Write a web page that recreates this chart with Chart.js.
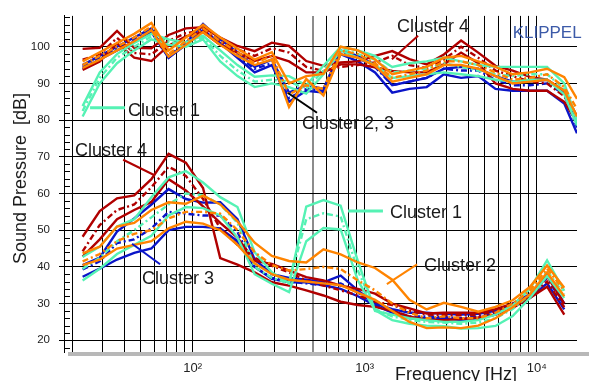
<!DOCTYPE html>
<html>
<head>
<meta charset="utf-8">
<script src="https://cdn.jsdelivr.net/npm/chart.js@4.4.1/dist/chart.umd.min.js"></script>
<style>
html, body { margin: 0; padding: 0; background: #fff; }
#wrap { width: 589px; height: 381px; }
</style>
</head>
<body>
<div id="wrap"><canvas id="chart1" width="589" height="381"></canvas></div>
<script>
"use strict";

// third-octave frequencies (Hz); the upper curves have one extra point at the end
const freqs = [22.9, 28.8, 36.3, 45.7, 57.5, 72.4, 91.2, 114.8, 144.5, 182.0,
    229.1, 288.4, 363.1, 457.1, 575.4, 724.4, 912.0, 1148, 1445, 1820,
    2291, 2884, 3631, 4571, 5754, 7244, 9120, 11482, 14454, 17140];

// upper group (on-axis level), per cluster: top / mean / bottom
const upC4Top  = [99.4, 99.7, 104.3, 99.7, 99.6, 103.2, 105.0, 105.3, 102.5, 100.2, 98.8, 101.1, 100.2, 96.1, 94.8, 95.7, 96.0, 97.5, 98.8, 96.6, 95.2, 97.9, 101.7, 98.4, 94.8, 93.5, 91.8, 91.0, 88.0, 81.0];
const upC4Mean = [96.5, 97.8, 102.4, 98.3, 97.9, 101.6, 103.7, 104.5, 101.5, 99.3, 97.5, 99.6, 98.4, 94.5, 93.4, 94.5, 95.0, 95.7, 97.5, 95.0, 94.2, 96.5, 100.0, 97.0, 93.5, 92.0, 90.5, 90.0, 86.5, 80.5];
const upC4Bot  = [93.7, 96.0, 101.0, 97.0, 96.1, 100.3, 102.8, 104.0, 100.5, 98.4, 96.1, 97.5, 96.0, 93.0, 93.0, 95.2, 95.2, 94.4, 93.4, 93.0, 93.0, 95.2, 98.4, 95.5, 90.0, 88.5, 88.0, 88.0, 85.0, 79.5];

const upC1Top  = [83.8, 93.0, 98.0, 101.0, 103.5, 102.0, 101.2, 103.0, 99.0, 95.0, 91.8, 92.2, 92.0, 89.5, 94.8, 100.0, 99.0, 97.5, 94.5, 95.5, 96.0, 97.0, 96.0, 95.0, 94.5, 94.5, 94.5, 94.5, 90.0, 80.0];
const upC1Mean = [82.5, 91.5, 97.0, 100.0, 102.8, 101.3, 100.5, 102.5, 97.5, 93.5, 90.5, 91.0, 90.5, 88.5, 93.5, 99.5, 98.0, 96.5, 93.0, 93.5, 94.0, 95.5, 94.5, 93.5, 92.5, 92.0, 92.5, 92.5, 88.5, 79.5];
const upC1Bot  = [81.0, 90.0, 95.5, 99.0, 102.0, 100.5, 100.0, 102.0, 96.0, 92.0, 89.0, 90.0, 89.0, 87.2, 92.5, 99.0, 97.0, 95.0, 91.5, 92.0, 92.5, 93.0, 92.5, 92.0, 91.0, 90.5, 91.0, 91.0, 87.0, 78.5];

const upC3Top  = [95.0, 97.5, 100.0, 102.5, 105.0, 97.0, 101.0, 106.2, 102.0, 98.5, 94.5, 96.5, 87.5, 89.5, 88.5, 99.0, 97.5, 95.0, 89.5, 90.5, 91.5, 94.0, 94.5, 94.0, 92.0, 90.5, 90.5, 91.0, 87.5, 79.0];
const upC3Mean = [94.5, 97.0, 99.5, 102.0, 104.5, 97.5, 101.0, 105.2, 101.5, 97.5, 94.0, 95.5, 86.0, 88.5, 88.0, 98.5, 97.0, 94.5, 89.5, 90.5, 91.5, 94.0, 93.5, 93.5, 91.0, 89.5, 89.5, 90.0, 87.0, 78.0];
const upC3Bot  = [94.0, 96.5, 99.0, 101.5, 104.0, 97.0, 100.5, 104.5, 101.0, 97.0, 93.0, 95.0, 85.0, 88.0, 87.5, 98.0, 96.0, 93.0, 87.5, 88.5, 89.0, 92.5, 91.5, 92.0, 88.5, 88.0, 88.0, 88.0, 84.5, 76.4];

const upC2Top  = [96.0, 98.5, 101.0, 103.5, 106.5, 99.0, 102.5, 106.0, 102.5, 99.5, 96.5, 98.5, 90.0, 92.0, 92.6, 100.0, 99.0, 96.5, 92.5, 93.5, 94.5, 97.0, 97.5, 96.0, 94.5, 92.5, 93.0, 94.0, 91.7, 85.8];
const upC2Mean = [95.0, 97.5, 100.0, 102.5, 105.5, 98.0, 101.5, 105.0, 101.5, 98.5, 95.5, 97.5, 87.0, 89.5, 88.5, 99.0, 98.0, 95.5, 91.5, 92.5, 93.5, 96.0, 96.0, 95.0, 93.0, 91.0, 91.5, 92.5, 89.0, 83.0];
const upC2Bot  = [94.2, 96.5, 99.0, 101.5, 104.5, 97.3, 100.5, 104.0, 100.5, 97.5, 95.0, 96.5, 83.6, 91.2, 86.7, 98.0, 97.0, 94.8, 90.5, 91.5, 92.5, 95.0, 95.0, 94.0, 92.0, 90.0, 90.5, 91.0, 88.0, 81.0];

// lower group (distortion level), per cluster: top / mean / bottom
const loC4Top  = [48.2, 55.2, 58.7, 59.5, 63.9, 70.8, 68.4, 61.5, 42.4, 40.6, 38.5, 35.8, 34.9, 33.6, 32.2, 30.5, 29.6, 29.1, 28.0, 26.5, 25.5, 25.5, 25.8, 26.2, 27.0, 28.8, 31.5, 34.6, 27.0];
const loC4Mean = [44.2, 51.4, 55.5, 57.0, 61.7, 67.3, 64.8, 58.5, 50.5, 46.0, 42.5, 40.3, 38.5, 36.3, 34.9, 33.6, 32.2, 30.5, 29.6, 28.0, 27.0, 26.8, 26.8, 27.0, 27.8, 29.5, 32.0, 36.0, 29.0];
const loC4Bot  = [42.8, 47.5, 53.0, 55.5, 57.7, 63.9, 60.8, 56.5, 52.0, 48.0, 41.6, 40.8, 39.0, 37.2, 36.3, 34.9, 34.0, 32.7, 30.0, 28.7, 27.3, 27.5, 27.5, 27.5, 28.5, 30.0, 31.5, 37.5, 30.0];

const loC1Top  = [42.7, 45.5, 51.0, 53.0, 59.0, 64.4, 66.1, 63.0, 59.0, 56.3, 44.0, 38.5, 35.5, 56.4, 58.2, 56.7, 41.6, 28.0, 27.0, 26.0, 25.5, 25.0, 25.0, 25.5, 27.0, 29.5, 34.0, 41.8, 33.5];
const loC1Mean = [39.5, 42.5, 47.0, 50.0, 53.5, 57.0, 60.0, 59.5, 57.0, 52.0, 40.0, 37.0, 35.5, 53.0, 54.6, 53.7, 39.0, 28.5, 26.5, 25.5, 25.0, 24.8, 24.5, 24.8, 26.0, 28.5, 32.5, 39.0, 32.5];
const loC1Bot  = [36.3, 39.5, 43.5, 46.0, 48.5, 54.0, 56.3, 56.0, 54.0, 48.0, 38.0, 35.4, 33.1, 47.0, 50.6, 50.2, 36.3, 28.2, 25.5, 24.5, 24.0, 23.8, 23.2, 23.3, 23.9, 26.6, 31.5, 37.5, 31.5];

const loC2Top  = [43.7, 45.5, 51.0, 52.0, 55.5, 57.6, 57.2, 59.4, 57.0, 52.4, 46.6, 43.0, 41.6, 41.2, 44.8, 43.4, 41.2, 39.7, 36.5, 31.0, 28.4, 30.2, 29.1, 27.8, 29.1, 30.9, 34.5, 40.4, 34.3];
const loC2Mean = [41.5, 43.5, 47.0, 49.0, 50.0, 53.2, 55.0, 55.0, 54.5, 50.0, 44.0, 40.5, 39.0, 39.4, 40.0, 39.4, 36.3, 33.6, 30.0, 27.5, 26.0, 26.5, 26.0, 26.0, 27.5, 30.0, 33.5, 39.5, 33.5];
const loC2Bot  = [40.5, 42.0, 45.0, 46.0, 47.0, 50.5, 52.3, 51.8, 50.0, 46.0, 41.0, 38.0, 36.5, 36.0, 35.5, 35.0, 33.0, 31.0, 28.0, 25.0, 23.3, 23.5, 23.3, 24.0, 26.0, 29.0, 32.5, 38.5, 32.0];

const loC3Top  = [40.5, 42.5, 49.6, 53.2, 57.0, 61.2, 58.5, 57.5, 57.6, 53.0, 42.0, 38.0, 37.0, 36.5, 35.8, 37.6, 33.6, 30.0, 28.5, 27.5, 27.5, 27.2, 27.0, 27.2, 28.0, 30.0, 32.5, 38.0, 30.0];
const loC3Mean = [39.3, 41.5, 46.5, 47.5, 50.5, 55.0, 54.5, 54.0, 54.0, 49.5, 40.0, 37.0, 36.0, 35.5, 35.0, 35.5, 33.0, 30.0, 28.0, 26.5, 26.5, 26.3, 26.0, 26.5, 27.5, 29.5, 32.0, 37.0, 29.5];
const loC3Bot  = [37.3, 39.5, 42.0, 43.8, 45.0, 50.0, 50.9, 50.9, 50.5, 47.0, 40.0, 36.7, 35.8, 35.8, 35.0, 34.0, 32.0, 29.5, 27.5, 26.0, 26.0, 26.0, 25.5, 26.0, 27.0, 29.0, 31.5, 35.5, 28.4];

// axes
const xGrid = [20, 30, 40, 50, 60, 70, 80, 90, 100, 200, 300, 400, 500, 600, 700, 800, 900,
    1000, 2000, 3000, 4000, 5000, 6000, 7000, 8000, 9000, 10000];
const xTickValues = [100, 1000, 10000];
const xTickLabels = ['10²', '10³', '10⁴'];
const yTicks = [20, 30, 40, 50, 60, 70, 80, 90, 100];

// cluster labels: text anchor and leader line, in Hz / dB
const notes = [
    {text: 'Cluster 4',    at: [1542, 105.5], from: [2042, 103.0], to: [1439, 96.6],  color: '#b00000', width: 2},
    {text: 'Cluster 1',    at: [42.1, 82.6],  from: [25.3, 83.4],  to: [40.4, 83.4],  color: '#55f2b4', width: 3},
    {text: 'Cluster 2, 3', at: [432, 79.0],   from: [358, 87.4],   to: [528, 82.0],   color: '#000000', width: 2},
    {text: 'Cluster 4',    at: [20.7, 71.6],  from: [39.4, 69.2],  to: [60.4, 64.9],  color: '#b00000', width: 2},
    {text: 'Cluster 1',    at: [1403, 54.7],  from: [800, 55.2],   to: [1276, 55.2],  color: '#55f2b4', width: 3},
    {text: 'Cluster 2',    at: [2213, 40.2],  from: [2014, 40.7],  to: [1345, 35.3],  color: '#ff8400', width: 2},
    {text: 'Cluster 3',    at: [50.7, 36.7],  from: [44.4, 46.3],  to: [64.6, 40.7],  color: '#0a14c8', width: 2},
];

const RED = '#b00000', AQUA = '#55f2b4', ORANGE = '#ff8400', BLUE = '#0a14c8';
const FONT = '"Liberation Sans", Arial, sans-serif';

const curve = (vals, color, dashed) => ({
    data: vals.map((v, i) => ({x: freqs[i], y: v})),
    borderColor: color,
    borderWidth: 2.4,
    borderDash: dashed ? [6, 3, 2, 3] : [],
    pointRadius: 0,
    fill: false,
    tension: 0
});

// first in list is painted on top
const datasets = [
    curve(upC2Top, ORANGE), curve(upC2Mean, ORANGE, true), curve(upC2Bot, ORANGE),
    curve(loC2Top, ORANGE), curve(loC2Mean, ORANGE, true), curve(loC2Bot, ORANGE),
    curve(upC1Top, AQUA), curve(upC1Mean, AQUA, true), curve(upC1Bot, AQUA),
    curve(loC1Top, AQUA), curve(loC1Mean, AQUA, true), curve(loC1Bot, AQUA),
    curve(upC4Top, RED), curve(upC4Mean, RED, true), curve(upC4Bot, RED),
    curve(loC4Top, RED), curve(loC4Mean, RED, true), curve(loC4Bot, RED),
    curve(upC3Top, BLUE), curve(upC3Mean, BLUE, true), curve(upC3Bot, BLUE),
    curve(loC3Top, BLUE), curve(loC3Mean, BLUE, true), curve(loC3Bot, BLUE),
];

const decor = {
    id: 'decor',
    afterDatasetsDraw(chart) {
        const {ctx, chartArea: a, scales: {x, y}} = chart;
        ctx.save();

        // grey base bar under the plot
        ctx.fillStyle = '#b8b8b8';
        ctx.fillRect(a.left + 4, a.bottom, chart.width - a.left - 4, 4);

        // minor ticks every 2 dB, inside
        ctx.strokeStyle = '#000';
        ctx.lineWidth = 1;
        for (let v = 18; v <= 108; v += 2) {
            if (v % 10 === 0) continue;
            const py = Math.round(y.getPixelForValue(v)) + 0.5;
            ctx.beginPath();
            ctx.moveTo(a.left, py);
            ctx.lineTo(a.left + 6, py);
            ctx.stroke();
        }

        // cluster labels
        ctx.font = '18px ' + FONT;
        ctx.textAlign = 'left';
        ctx.textBaseline = 'middle';
        for (const n of notes) {
            ctx.strokeStyle = n.color;
            ctx.lineWidth = n.width;
            ctx.beginPath();
            ctx.moveTo(x.getPixelForValue(n.from[0]), y.getPixelForValue(n.from[1]));
            ctx.lineTo(x.getPixelForValue(n.to[0]), y.getPixelForValue(n.to[1]));
            ctx.stroke();
            ctx.fillStyle = '#1a1a1a';
            ctx.fillText(n.text, x.getPixelForValue(n.at[0]), y.getPixelForValue(n.at[1]));
        }

        ctx.fillStyle = '#3c5aa8';
        ctx.font = '17px ' + FONT;
        ctx.fillText('KLIPPEL', x.getPixelForValue(7244), y.getPixelForValue(103.6));

        // axis titles
        ctx.fillStyle = '#1a1a1a';
        ctx.font = '18px ' + FONT;
        ctx.textBaseline = 'alphabetic';
        ctx.fillText('Frequency [Hz]', x.getPixelForValue(1500), a.bottom + 27.6);

        ctx.translate(a.left - 43, (a.top + a.bottom) / 2 - 5.5);
        ctx.rotate(-Math.PI / 2);
        ctx.textAlign = 'center';
        ctx.textBaseline = 'middle';
        ctx.fillText('Sound Pressure  [dB]', 0, 0);
        ctx.restore();
    }
};

Chart.defaults.font.family = FONT;

new Chart(document.getElementById('chart1'), {
    type: 'line',
    data: {datasets},
    options: {
        responsive: false,
        devicePixelRatio: 1,
        animation: false,
        layout: {padding: {top: 11, right: 12, left: 0, bottom: 0}},
        plugins: {legend: {display: false}, tooltip: {enabled: false}},
        scales: {
            x: {
                type: 'logarithmic',
                min: 17.85,
                max: 17140,
                afterBuildTicks: s => { s.ticks = xGrid.map(v => ({value: v})); },
                afterFit: s => { s.height = 29; },
                grid: {
                    color: c => (c.tick && c.tick.value === 500) ? '#8c8c8c' : '#000',
                    lineWidth: c => (c.tick && c.tick.value === 500) ? 2 : 1,
                    drawTicks: false
                },
                border: {display: false},
                ticks: {
                    autoSkip: false,
                    maxRotation: 0,
                    padding: 9,
                    color: '#222',
                    font: {size: 13},
                    callback: v => {
                        const i = xTickValues.indexOf(v);
                        return i >= 0 ? xTickLabels[i] : '';
                    }
                }
            },
            y: {
                min: 16.8,
                max: 108.4,
                afterBuildTicks: s => { s.ticks = yTicks.map(v => ({value: v})); },
                afterFit: s => { s.width = 64; },
                grid: {color: '#000', lineWidth: 1, tickLength: 5, tickColor: '#000'},
                border: {color: '#000', width: 1},
                ticks: {padding: 9, color: '#222', font: {size: 11.5}}
            }
        }
    },
    plugins: [decor]
});
</script>
</body>
</html>
